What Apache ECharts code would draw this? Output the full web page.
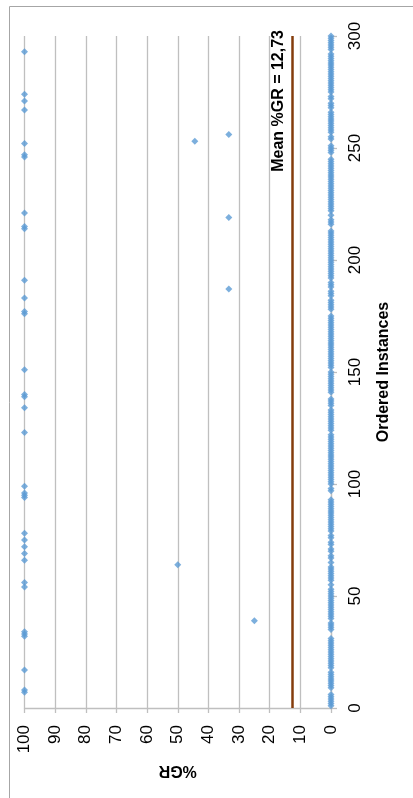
<!DOCTYPE html>
<html>
<head>
<meta charset="utf-8">
<script src="https://cdn.jsdelivr.net/npm/echarts@6/dist/echarts.min.js"></script>
<style>
html,body{margin:0;padding:0;background:#fff;}
#chart{width:413px;height:798px;}
</style>
</head>
<body>
<div id="chart"></div>
<script>
// %GR for each ordered instance 1..300
const grValues = [
  0,0,0,0,0,0,100,100,0,0,
  0,0,0,0,0,0,100,0,0,0,
  0,0,0,0,0,0,0,0,0,0,
  0,100,100,100,0,0,0,0,25,0,
  0,0,0,0,0,0,0,0,0,0,
  0,0,0,100,0,100,0,0,0,0,
  0,0,0,50,0,100,0,0,100,0,
  0,100,0,0,100,0,0,100,0,0,
  0,0,0,0,0,0,0,0,0,0,
  0,0,0,100,100,100,0,0,100,0,
  0,0,0,0,0,0,0,0,0,0,
  0,0,0,0,0,0,0,0,0,0,
  0,0,100,0,0,0,0,0,0,0,
  0,0,0,100,0,0,0,0,100,100,
  0,0,0,0,0,0,0,0,0,0,
  100,0,0,0,0,0,0,0,0,0,
  0,0,0,0,0,0,0,0,0,0,
  0,0,0,0,0,100,100,0,0,0,
  0,0,100,0,0,0,33.33,0,0,0,
  100,0,0,0,0,0,0,0,0,0,
  0,0,0,0,0,0,0,0,0,0,
  0,0,0,100,100,0,0,0,33.33,0,
  100,0,0,0,0,0,0,0,0,0,
  0,0,0,0,0,0,0,0,0,0,
  0,0,0,0,0,100,100,0,0,0,
  0,100,44.44,0,0,33.33,0,0,0,0,
  0,0,0,0,0,0,100,0,0,0,
  100,0,0,100,0,0,0,0,0,0,
  0,0,0,0,0,0,0,0,0,0,
  0,0,100,0,0,0,0,0,0,0
];
const meanGR = 12.73;
const meanLabel = 'Mean %GR = 12,73';
const grTicks = [0,10,20,30,40,50,60,70,80,90,100];
const instanceTicks = [0,50,100,150,200,250,300];
const grAxisName = '%GR';
const instanceAxisName = 'Ordered Instances';

const points = grValues.map((v, i) => [v, i + 1]);

const chart = echarts.init(document.getElementById('chart'));
const labelFont = {fontFamily: 'Liberation Sans', fontSize: 17, color: '#000'};
chart.setOption({
  animation: false,
  backgroundColor: '#fff',
  graphic: [{
    type: 'rect', left: 7, top: 4, z: -10,
    shape: {width: 500, height: 900},
    style: {fill: 'none', stroke: '#a6a6a6', lineWidth: 1}
  }],
  grid: {left: 24.5, right: 82, top: 36, bottom: 90, containLabel: false},
  xAxis: {
    type: 'value', min: grTicks[0], max: grTicks[grTicks.length - 1], interval: 10,
    inverse: true, position: 'bottom',
    name: grAxisName, nameLocation: 'middle', nameRotate: 180, nameGap: 54,
    nameTextStyle: {fontFamily: 'Liberation Sans', fontSize: 16, fontWeight: 'bold', color: '#000'},
    axisLine: {show: true, onZero: false, lineStyle: {color: '#bfbfbf', width: 1.3}},
    axisTick: {show: true, length: 5, lineStyle: {color: '#bfbfbf', width: 1.3}},
    axisLabel: Object.assign({rotate: 90, margin: 17}, labelFont),
    splitLine: {show: true, lineStyle: {color: '#bfbfbf', width: 1.3}}
  },
  yAxis: {
    type: 'value', min: instanceTicks[0], max: instanceTicks[instanceTicks.length - 1], interval: 50,
    position: 'right',
    name: instanceAxisName, nameLocation: 'middle', nameRotate: 90, nameGap: 45,
    nameTextStyle: {fontFamily: 'Liberation Sans', fontSize: 16, fontWeight: 'bold', color: '#000'},
    axisLine: {show: true, onZero: false, lineStyle: {color: '#bfbfbf', width: 1.3}},
    axisTick: {show: true, length: 6, lineStyle: {color: '#bfbfbf', width: 1.3}},
    axisLabel: Object.assign({rotate: 90, margin: 16}, labelFont),
    splitLine: {show: false}
  },
  series: [{
    type: 'scatter',
    data: points,
    symbol: 'diamond',
    symbolSize: 7,
    itemStyle: {color: '#5b9bd5'},
    markLine: {
      silent: true,
      symbol: ['none', 'none'],
      lineStyle: {color: '#843c0c', width: 2.5, type: 'solid'},
      label: {
        show: true, position: 'insideEndTop', formatter: meanLabel,
        fontFamily: 'Liberation Sans', fontSize: 16, fontWeight: 'bold', color: '#000',
        distance: [-6, 5]
      },
      data: [[{coord: [meanGR, instanceTicks[0]]}, {coord: [meanGR, instanceTicks[instanceTicks.length - 1]]}]]
    }
  }]
});
</script>
</body>
</html>
